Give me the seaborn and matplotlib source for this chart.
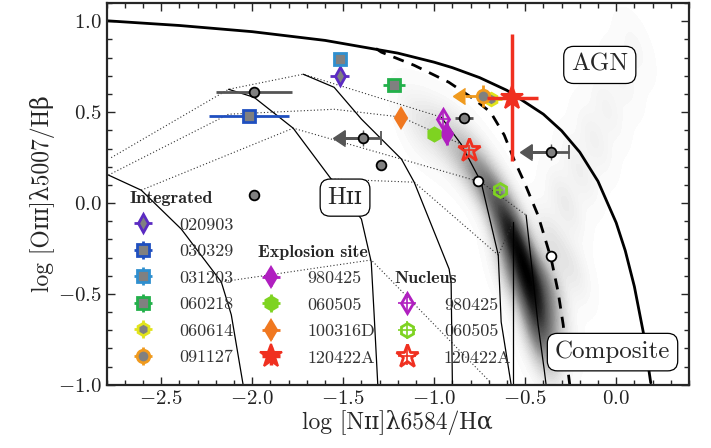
import numpy as np
import pandas as pd
import seaborn as sns
import matplotlib.pyplot as plt
from matplotlib.colors import PowerNorm
from matplotlib.ticker import MultipleLocator

sns.set_style("ticks")
plt.rcParams['font.family'] = ['cmr10', 'DejaVu Serif']
plt.rcParams['mathtext.fontset'] = 'cm'
plt.rcParams['axes.formatter.use_mathtext'] = True
plt.rcParams['axes.unicode_minus'] = True

# ---- GRB host samples ----
integ_names = ['020903', '030329', '031203', '060218', '060614', '091127']
integ_x = [-1.52, -2.02, -1.52, -1.22, -0.69, -0.73]
integ_y = [0.70, 0.48, 0.79, 0.65, 0.57, 0.59]
integ_xerr = [0.05, 0.22, 0.03, 0.06, 0.06, 0.0]
integ_yerr = [0.05, 0.02, 0.02, 0.02, 0.02, 0.06]
integ_colors = ['#5b2bc2', '#1f4fc0', '#2f8fcf', '#22b04a', '#e2e41c', '#f09a1e']
integ_markers = ['d', 's', 's', 's', 'h', 'o']

site_names = ['980425', '060505', '100316D', '120422A']
site_x = [-0.93, -1.00, -1.18, -0.57]
site_y = [0.38, 0.38, 0.47, 0.58]
site_xerr = [0.02, 0.02, 0.02, 0.14]
site_yerr = [0.06, 0.02, 0.02, 0.35]
site_colors = ['#b01fc0', '#7ed321', '#f07820', '#f03020']
site_markers = ['d', 'h', 'd', '*']

nuc_names = ['980425', '060505', '120422A']
nuc_x = [-0.95, -0.64, -0.81]
nuc_y = [0.46, 0.07, 0.29]
nuc_xerr = [0.03, 0.02, 0.03]
nuc_yerr = [0.05, 0.02, 0.03]
nuc_colors = ['#b01fc0', '#7ed321', '#f03020']
nuc_markers = ['d', 'h', '*']

# comparison hosts (grey), x upper limits flagged
cmp_x = [-1.99, -1.39, -1.29, -1.99, -0.835, -0.36]
cmp_y = [0.61, 0.36, 0.21, 0.044, 0.47, 0.28]
cmp_xerr = [0.21, 0.10, 0.0, 0.0, 0.05, 0.10]
cmp_lim = [False, True, False, False, False, True]
open_x = [-0.76, -0.36]
open_y = [0.12, -0.29]

sdss_x = [-1.10, -1.00, -0.90, -0.82, -0.75, -0.69, -0.63, -0.58, -0.54, -0.50,
          -0.47, -0.45, -0.44, -0.42, -0.40,
          -0.38, -0.56, -0.35, -0.60,
          -0.36, -0.28, -0.20, -0.12, -0.05, 0.03, 0.10, -0.25]
sdss_y = [0.45, 0.40, 0.33, 0.25, 0.16, 0.07, -0.03, -0.13, -0.23, -0.33,
          -0.43, -0.53, -0.63, -0.73, -0.83,
          -0.45, -0.40, -0.65, -0.20,
          -0.20, 0.00, 0.18, 0.35, 0.52, 0.68, 0.85, -0.35]
sdss_w = [0.12, 0.2, 0.3, 0.42, 0.55, 0.68, 0.8, 0.9, 0.97, 1.0,
          1.0, 1.0, 0.9, 0.6, 0.35,
          0.7, 0.7, 0.4, 0.55,
          0.18, 0.14, 0.11, 0.09, 0.07, 0.05, 0.04, 0.15]

# demarcation lines
kew_x = [-2.8, -2.4, -2.0, -1.6, -1.2, -1.0, -0.9, -0.75, -0.6, -0.4, -0.3, -0.2,
         -0.1, 0.0, 0.05, 0.1, 0.15, 0.19]
kew_y = [1.003, 0.977, 0.943, 0.895, 0.825, 0.775, 0.745, 0.690, 0.620, 0.489, 0.398,
         0.280, 0.120, -0.108, -0.262, -0.459, -0.716, -0.989]
kau_x = [-1.32, -1.29, -1.11, -0.92, -0.78, -0.69, -0.615, -0.56, -0.505, -0.43,
         -0.385, -0.357, -0.319, -0.291, -0.264, -0.255]
kau_y = [0.85, 0.83, 0.758, 0.665, 0.571, 0.50, 0.374, 0.236, 0.115, -0.066,
         -0.214, -0.308, -0.489, -0.670, -0.929, -1.0]

# photoionisation model grid (solid: metallicity tracks, dotted: ionisation tracks)
grid_solid = [
    ([-2.79, -2.61, -2.39, -2.17, -2.115, -2.05], [0.154, 0.071, -0.143, -0.434, -0.615, -1.0]),
    ([-2.13, -1.99, -1.775, -1.566, -1.40, -1.346, -1.33, -1.31],
     [0.626, 0.582, 0.412, 0.132, -0.088, -0.324, -0.615, -1.0]),
    ([-1.72, -1.55, -1.40, -1.18, -1.11, -0.918, -0.907, -0.90],
     [0.709, 0.637, 0.462, 0.242, 0.115, -0.363, -0.434, -1.0]),
    ([-0.962, -0.852, -0.742, -0.648, -0.632, -0.577],
     [0.473, 0.324, 0.115, -0.286, -0.654, -1.0]),
    ([-0.566, -0.566], [-0.104, -1.0]),
    ([-0.495, -0.429, -0.396, -0.385], [-0.066, -0.670, -0.912, -1.0]),
]
grid_dotted = [
    ([-2.775, -2.13, -1.72, -0.962], [0.25, 0.626, 0.709, 0.473]),
    ([-2.79, -2.13, -1.549, -1.181, -0.852], [0.154, 0.489, 0.516, 0.473, 0.324]),
    ([-2.61, -1.775, -1.181, -0.742, -0.495], [0.071, 0.412, 0.242, 0.115, -0.066]),
    ([-1.566, -1.11, -0.648, -0.566], [0.132, 0.115, -0.286, -0.104]),
    ([-2.17, -1.346, -0.687], [-0.434, -0.313, -0.99]),
]

fig = plt.figure(figsize=(7.11, 4.48), dpi=100)
ax = fig.add_axes([0.150, 0.141, 0.819, 0.852])

sdss = pd.DataFrame({'x': sdss_x, 'y': sdss_y, 'w': sdss_w})
sns.kdeplot(data=sdss, x='x', y='y', weights='w', fill=True, cmap='Greys',
            levels=80, thresh=0.002, bw_adjust=0.55, gridsize=250, cut=6,
            norm=PowerNorm(gamma=0.6), ax=ax, zorder=0)

for gx, gy in grid_dotted:
    ax.plot(gx, gy, ls=(0, (1, 2)), color='#333333', lw=0.8, zorder=1)
for gx, gy in grid_solid:
    ax.plot(gx, gy, ls='-', color='black', lw=0.9, zorder=1)

ax.plot(kew_x, kew_y, color='black', lw=2.0, zorder=2)
ax.plot(kau_x, kau_y, color='black', lw=2.0, ls=(0, (4, 3)), zorder=2)

# comparison sample
grey_err = '#555555'
for x, y, xe, lim in zip(cmp_x, cmp_y, cmp_xerr, cmp_lim):
    ax.errorbar(x, y, xerr=xe if xe > 0 else None, fmt='o', color=grey_err,
                ecolor=grey_err, mfc='#808080', mec='black', ms=7, mew=1.3,
                elinewidth=2, capsize=5 if lim else 0, capthick=1.5, zorder=4)
    if lim:
        ax.errorbar(x, y, xerr=xe, xuplims=True, fmt='none', color=grey_err,
                    ecolor=grey_err, elinewidth=2, capsize=6, zorder=4)
ax.plot(open_x, open_y, 'o', mfc='white', mec='black', ms=7, mew=1.3, zorder=4)

integ_h = []
for i in range(len(integ_names)):
    h = ax.errorbar(integ_x[i], integ_y[i], xerr=integ_xerr[i], yerr=integ_yerr[i],
                    fmt=integ_markers[i], color=integ_colors[i], mfc='#808080',
                    mec=integ_colors[i], ms=9, mew=2, elinewidth=2, capsize=0,
                    zorder=5)
    integ_h.append(h)
ax.errorbar(integ_x[5], integ_y[5], xerr=0.1, xuplims=True, fmt='none',
            color=integ_colors[5], ecolor=integ_colors[5], elinewidth=2, capsize=6,
            zorder=5)

site_h = []
for i in range(len(site_names)):
    big = site_markers[i] == '*'
    h = ax.errorbar(site_x[i], site_y[i], xerr=site_xerr[i], yerr=site_yerr[i],
                    fmt=site_markers[i], color=site_colors[i], mfc=site_colors[i],
                    mec=site_colors[i], ms=17 if big else 10, mew=1.5,
                    elinewidth=2.5 if big else 2, capsize=0, zorder=6)
    site_h.append(h)

nuc_h = []
for i in range(len(nuc_names)):
    big = nuc_markers[i] == '*'
    h = ax.errorbar(nuc_x[i], nuc_y[i], xerr=nuc_xerr[i], yerr=nuc_yerr[i],
                    fmt=nuc_markers[i], color=nuc_colors[i], mfc='none',
                    mec=nuc_colors[i], ms=17 if big else 10, mew=2,
                    elinewidth=1.2, capsize=0, zorder=6)
    nuc_h.append(h)

box = dict(boxstyle='round,pad=0.3,rounding_size=0.4', fc='white', ec='black', lw=0.9)
ax.text(-0.09, 0.76, 'AGN', fontsize=18, ha='center', va='center', bbox=box, zorder=7)
ax.text(-1.49, 0.03, 'H' + 'ɪɪ', fontsize=18, ha='center', va='center', bbox=box, zorder=7)
ax.text(-0.02, -0.82, 'Composite', fontsize=18, ha='center', va='center', bbox=box, zorder=7)

leg_kw = dict(frameon=False, fontsize=13, handlelength=1.4, handletextpad=1.35,
              labelspacing=0.6, borderaxespad=0, alignment='left', borderpad=0,
              title_fontproperties={'family': 'cmb10', 'size': 13}, loc='upper left')
leg1 = ax.legend(integ_h, integ_names, title='Integrated', bbox_to_anchor=(0.04, 0.507), **leg_kw)
ax.add_artist(leg1)
leg2 = ax.legend(site_h, site_names, title='Explosion site', bbox_to_anchor=(0.26, 0.367), **leg_kw)
ax.add_artist(leg2)
leg3 = ax.legend(nuc_h, nuc_names, title='Nucleus', bbox_to_anchor=(0.494, 0.298), **leg_kw)
for lg in (leg1, leg2, leg3):
    for t in lg.get_texts():
        t.set_color('#333333')

ax.set_xlim(-2.8, 0.4)
ax.set_ylim(-1.0, 1.1)
ax.xaxis.set_major_locator(MultipleLocator(0.5))
ax.xaxis.set_minor_locator(MultipleLocator(0.1))
ax.yaxis.set_major_locator(MultipleLocator(0.5))
ax.yaxis.set_minor_locator(MultipleLocator(0.1))
ax.tick_params(which='both', direction='in', top=True, right=True, labelsize=15,
               labelcolor='#222222')
ax.tick_params(which='major', length=6, width=1)
ax.tick_params(which='minor', length=3.5, width=1)
for s in ax.spines.values():
    s.set_linewidth(1.6)
ax.set_xlabel('log [N' + 'ɪɪ' + ']λ6584/Hα', fontsize=17, labelpad=2)
ax.set_ylabel('log [O' + 'ɪɪɪ' + ']λ5007/Hβ', fontsize=17, labelpad=2)

fig.savefig('out.png', dpi=100)
